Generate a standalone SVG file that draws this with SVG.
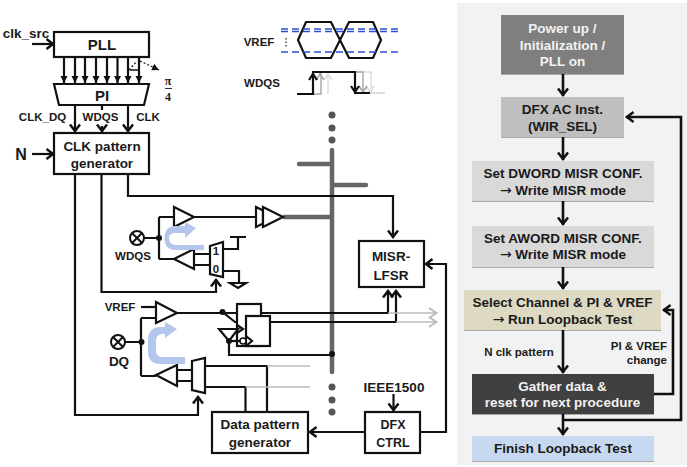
<svg xmlns="http://www.w3.org/2000/svg" width="687" height="467" viewBox="0 0 687 467">
<style>
text{font-family:"Liberation Sans",Arial,sans-serif;font-weight:bold;fill:#1a1a1a;text-anchor:middle}
.t11{font-size:11.5px}.t12{font-size:12.5px}.t13{font-size:13.5px}.t15{font-size:15px}
.fl{font-size:13.5px}.w{fill:#f2f2f2}
.arw{font-family:"DejaVu Sans",sans-serif;font-weight:normal;font-size:14px}
.box{fill:#fff;stroke:#111;stroke-width:2.2}
.tri{fill:#fff;stroke:#111;stroke-width:2.2;stroke-linejoin:miter}
.ln{fill:none;stroke:#111;stroke-width:2.2;stroke-linejoin:miter}
.a{marker-end:url(#chev)}.af{marker-end:url(#fill)}
.ar{fill:none;stroke:#111;stroke-width:2.6;marker-end:url(#chev)}
.g{fill:none;stroke:#bbb;stroke-width:1.6}
.sp{fill:none;stroke:#666;stroke-width:4.5;stroke-linecap:round}
.bl{fill:#b4c6ec}
.d{fill:#111}.gd{fill:#555}
.dash{fill:none;stroke:#2a50d2;stroke-width:1.6;stroke-dasharray:7 4}
.fb{filter:url(#sh)}
</style>
<defs>
<marker id="chev" markerUnits="userSpaceOnUse" markerWidth="14" markerHeight="14" refX="10.500" refY="6" orient="auto"><path d="M3 1L9.500 6L3 11" fill="none" stroke="#111" stroke-width="2.500"/></marker>
<marker id="fill" markerUnits="userSpaceOnUse" markerWidth="9" markerHeight="9" refX="7" refY="4" orient="auto"><path d="M0 0.500L7 4L0 7.500Z" fill="#111"/></marker>
<marker id="gch" markerUnits="userSpaceOnUse" markerWidth="14" markerHeight="14" refX="10" refY="6" orient="auto"><path d="M2 1L9.500 6L2 11" fill="none" stroke="#bbb" stroke-width="1.800"/></marker>
<filter id="sh" x="-5%" y="-5%" width="110%" height="120%"><feDropShadow dx="0" dy="1" stdDeviation="0.700" flood-color="#000" flood-opacity="0.300"/></filter>
</defs>
<rect x="457" y="3" width="230" height="462" fill="#f2f2f2"/>

<g id="eye-diagram">
<path class="ln" d="M298 40L306 22H331L349 58H373L381 40L373 22H349L331 58H306Z"/>
<path class="dash" d="M281 29H398M281 31.500H398M281 52H398"/>
<path d="M286 38V48" stroke="#111" stroke-width="1.200" stroke-dasharray="1.500 2"/>
<text class="t11" x="259" y="46">VREF</text>
</g>
<g id="wdqs-wave">
<path d="M370 93H385" stroke="#ddd" stroke-width="2" fill="none"/>
<path d="M328 94V72H371V93" stroke="#ddd" stroke-width="1.500" fill="none"/>
<path d="M314 94H321V72H363V93H370" stroke="#aaa" stroke-width="1.500" fill="none"/>
<path d="M324 80L328 74L332 80M366 86L370 92L374 86" stroke="#ddd" stroke-width="1.800" fill="none"/>
<path d="M316 80L320 74L324 80M359 86L363 92L367 86" stroke="#aaa" stroke-width="1.800" fill="none"/>
<path class="ln" d="M297 94H313V72H355V93H370"/>
<path class="ln" d="M309 80L313 74L317 80M351 86L355 92L359 86"/>
<text class="t11" x="262" y="87">WDQS</text>
</g>

<g id="connectors">
<path class="sp" d="M332 150V372M299 164H332M332 185H366"/>
<path d="M283 217H332" stroke="#666" stroke-width="4.500" fill="none"/>
<g class="ln">
<path class="a" d="M32 44H54"/>
<path class="a" d="M32 154H54"/>
<path class="af" d="M64 57V83"/><path class="af" d="M75 57V83"/><path class="af" d="M85 57V83"/><path class="af" d="M96 57V83"/><path class="af" d="M107 57V83"/><path class="af" d="M117.500 57V83"/><path class="af" d="M128 57V83"/><path class="af" d="M139 57V83"/>
<path class="a" d="M75 105V132"/><path class="a" d="M102 126V132"/><path d="M102 105V110"/><path class="a" d="M128 105V132"/>
<path class="a" d="M75 174V415H198V396"/>
<path class="a" d="M101.500 174V292H216V279"/>
<path class="a" d="M128 174V196H393V238"/>
<path d="M194 217H256"/>
<path d="M144 238H159M159 217V259M159 217H174M159 259H174"/>
<path d="M194 254H210M194 265H210"/>
<path d="M223 249H238V237M230 237H246M223 271H239V283"/>
<path d="M141 307H156"/>
<path d="M125 342H141M141 318V376M141 318H156M141 376H156"/>
<path d="M177 370H192M177 381H192"/>
<path d="M205 366H267V412M205 387H245.500V412"/>
<path d="M177 313H237M222.500 312L235 322H246"/>
<path class="a" d="M261 313H388V290"/>
<path class="a" d="M270 322H396V290"/>
<path d="M229 341V355H332"/>
<path class="a" d="M393.500 394V411"/>
<path class="a" d="M365 432H309"/>
<path class="a" d="M420 432H446V264H425"/>
</g>
<path class="g" style="marker-end:url(#gch)" d="M388 313H437"/>
<path class="g" style="marker-end:url(#gch)" d="M396 322H437"/>
<path class="g" d="M267 366H310M245.500 387H310"/>
<circle class="d" cx="332" cy="354" r="3"/>
<circle class="d" cx="159" cy="238" r="3"/>
<circle class="d" cx="141.500" cy="342" r="3"/>
<circle class="d" cx="222.500" cy="312" r="3"/>
<path d="M140 61L159 70" fill="none" stroke="#111" stroke-dasharray="2 2" stroke-width="1.200" style="marker-end:url(#fill)"/>
<path d="M129 70L137 61" stroke="#111" stroke-width="1.200" stroke-dasharray="2 2" fill="none"/>
<path d="M130 70H138" stroke="#111" stroke-width="1.500" fill="none"/>
<g class="ar">
<path d="M563 74V96"/><path d="M563 137V160"/><path d="M563 201V225"/><path d="M563 267V289"/><path d="M563 330V373"/><path d="M563 414V435"/>
<path d="M563 420H681V117H626"/>
<path d="M654 394H673V310H663"/>
</g>
</g>

<g id="spine-dots">
<circle class="gd" cx="332" cy="115" r="3.500"/><circle class="gd" cx="332" cy="128" r="3.500"/><circle class="gd" cx="332" cy="140" r="3.500"/>
<circle class="gd" cx="332" cy="387" r="3.500"/><circle class="gd" cx="332" cy="400" r="3.500"/><circle class="gd" cx="332" cy="412" r="3.500"/>
</g>
<g id="clk-src"><text class="t13" x="26" y="38">clk_src</text></g>
<g id="n-label"><text x="21" y="160" style="font-size:16px">N</text></g>
<g id="pll"><rect class="box" x="54" y="32" width="95" height="25"/><text class="t15" x="102" y="50">PLL</text></g>
<g id="pi"><path class="box" d="M54 84H149L144 105H59Z"/><text class="t15" x="102" y="101">PI</text></g>
<g id="pi-over-4"><text x="168" y="85" style="font-family:'Liberation Serif',serif;font-size:12px">π</text><path d="M165 88.500H172" stroke="#333" stroke-width="1"/><text x="168" y="101" style="font-family:'Liberation Serif',serif;font-size:12px">4</text></g>
<g id="pi-labels"><text class="t11" x="42.500" y="121">CLK_DQ</text><text class="t11" x="100.500" y="121">WDQS</text><text class="t11" x="148" y="121">CLK</text></g>
<g id="clk-pattern"><rect class="box" x="54" y="133" width="95" height="41"/><text class="t13" x="102" y="151">CLK pattern</text><text class="t13" x="102" y="168">generator</text></g>

<g id="wdqs-port">
<circle cx="137" cy="238" r="7" fill="#fff" stroke="#111" stroke-width="2"/><path d="M132 233L142 243M142 233L132 243" stroke="#111" stroke-width="2"/>
<text class="t11" x="133" y="260">WDQS</text>
</g>
<g id="wdqs-rx"><path class="tri" d="M174 207L194 217L174 227Z"/><path class="tri" d="M256 207L263 210.500V223.500L256 227Z"/><path class="tri" d="M263 207L283 217L263 227Z"/></g>
<g id="wdqs-tx"><path class="tri" d="M174 259L194 249V269Z"/></g>
<g id="wdqs-loop"><path class="bl" d="M204 245V250H175C168 250 164.500 245 164.500 238C164.500 231 168 226 175 226H185V222L196 228L185 238V233H176C171 233 169 235 169 238C169 242 171 245 176 245Z"/></g>
<g id="wdqs-mux"><path class="tri" d="M210 246L223 242V277L210 274Z"/><text class="t11" x="216" y="255">1</text><text class="t11" x="216" y="273">0</text></g>
<g id="ground"><path class="tri" d="M230 283H246L238 288Z"/></g>

<g id="vref-label"><text class="t11" x="120" y="311">VREF</text></g>
<g id="dq-port">
<circle cx="118" cy="342" r="7" fill="#fff" stroke="#111" stroke-width="2"/><path d="M113 337L123 347M123 337L113 347" stroke="#111" stroke-width="2"/>
<text class="t13" x="119" y="366">DQ</text>
</g>
<g id="dq-rx"><path class="tri" d="M156 302L177 313L156 323Z"/></g>
<g id="dq-tx"><path class="tri" d="M156 375L177 365V386Z"/></g>
<g id="dq-loop"><path class="bl" d="M185 357V364H160C152 364 148 359 148 351V340C148 331 153 327 160 327H165V322L177 329L165 338V334H162C158 334 156 337 156 341V350C156 354 158 357 162 357Z"/></g>
<g id="dq-mux"><path class="tri" d="M192 361L205 358V393L192 390Z"/></g>
<g id="flipflops">
<rect class="box" x="237" y="304" width="24" height="42"/>
<path class="ln" d="M237 325L243 329L237 333"/>
<path class="ln" d="M219 329H238L229 341Z" style="fill:#fff"/>
<circle class="d" cx="229" cy="341" r="3"/>
<path class="ln" d="M229 341H240"/>
<rect class="box" x="246" y="316" width="24" height="30"/>
<circle cx="243" cy="341" r="3" fill="#fff" stroke="#111" stroke-width="1.500"/>
<path class="ln" d="M246 336L252 341L246 346"/>
</g>
<g id="misr"><rect class="box" x="359" y="241" width="65" height="46"/><text class="t13" x="391" y="261">MISR-</text><text class="t13" x="391" y="280">LFSR</text></g>
<g id="ieee"><text class="t13" x="394" y="392">IEEE1500</text></g>
<g id="dfx"><rect class="box" x="365" y="412" width="55" height="41"/><text class="t12" x="393" y="429">DFX</text><text class="t12" x="393" y="447">CTRL</text></g>
<g id="data-pattern"><rect class="box" x="212" y="412" width="96" height="41"/><text class="t13" x="260" y="429">Data pattern</text><text class="t13" x="260" y="447">generator</text></g>

<g id="flow-power"><rect class="fb" x="501" y="15" width="123" height="59" fill="#7f7f7f"/><text class="fl w" x="562.500" y="33">Power up /</text><text class="fl w" x="562.500" y="50">Initialization /</text><text class="fl w" x="562.500" y="66">PLL on</text></g>
<g id="flow-dfx"><rect class="fb" x="501" y="97" width="123" height="40" fill="#bfbfbf"/><text class="fl" x="562.500" y="114">DFX AC Inst.</text><text class="fl" x="562.500" y="131">(WIR_SEL)</text></g>
<g id="flow-dword"><rect class="fb" x="472" y="161" width="182" height="40" fill="#d9d9d9"/><text class="fl" x="563" y="178">Set DWORD MISR CONF.</text><text class="fl" x="563" y="195"><tspan class="arw">→</tspan> Write MISR mode</text></g>
<g id="flow-aword"><rect class="fb" x="472" y="226" width="182" height="41" fill="#d9d9d9"/><text class="fl" x="563" y="243">Set AWORD MISR CONF.</text><text class="fl" x="563" y="259"><tspan class="arw">→</tspan> Write MISR mode</text></g>
<g id="flow-select"><rect class="fb" x="464" y="290" width="197" height="40" fill="#ddd9c3"/><text class="fl" x="562.500" y="307">Select Channel &amp; PI &amp; VREF</text><text class="fl" x="562.500" y="324"><tspan class="arw">→</tspan> Run Loopback Test</text></g>
<g id="flow-nclk"><text class="t11" x="519" y="356">N clk pattern</text></g>
<g id="flow-pivref"><text class="t11" x="667" y="350" style="text-anchor:end">PI &amp; VREF</text><text class="t11" x="667" y="364" style="text-anchor:end">change</text></g>
<g id="flow-gather"><rect class="fb" x="472" y="374" width="182" height="40" fill="#404040"/><text class="fl w" x="562.500" y="391">Gather data &amp;</text><text class="fl w" x="562.500" y="407">reset for next procedure</text></g>
<g id="flow-finish"><rect class="fb" x="472" y="436" width="182" height="25" fill="#c6d9f1"/><text class="fl" x="563" y="453">Finish Loopback Test</text></g>
</svg>
